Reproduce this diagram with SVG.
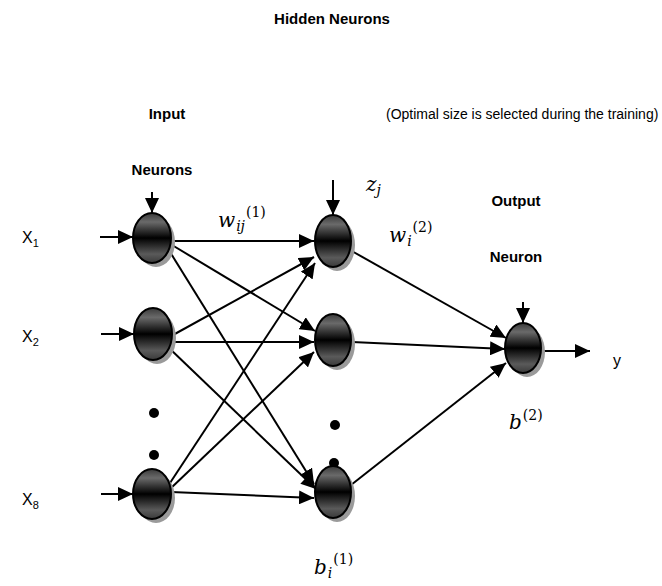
<svg xmlns="http://www.w3.org/2000/svg" width="662" height="586" viewBox="0 0 662 586">
<defs>
<linearGradient id="g" x1="0" y1="0" x2="0" y2="1">
<stop offset="0" stop-color="#3a3a3a"/>
<stop offset="0.18" stop-color="#6a6a6a"/>
<stop offset="0.5" stop-color="#000"/>
<stop offset="0.82" stop-color="#5a5a5a"/>
<stop offset="1" stop-color="#3a3a3a"/>
</linearGradient>
<marker id="a" markerUnits="userSpaceOnUse" markerWidth="16" markerHeight="14" refX="15" refY="7" orient="auto">
<path d="M0,0 L15,7 L0,14 z" fill="#000"/>
</marker>
</defs>
<style>
.sh{fill:#9a9a9a}
.n{fill:url(#g);stroke:#000;stroke-width:2}
.c{stroke:#000;stroke-width:2;fill:none;marker-end:url(#a)}
.b{font-family:"Liberation Sans",Arial,sans-serif;font-weight:bold;font-size:15px;fill:#000}
.t{font-family:"Liberation Sans",Arial,sans-serif;font-size:14px;fill:#000}
.x{font-family:"Liberation Sans",Arial,sans-serif;font-size:16px;fill:#000}
.m{font-family:"DejaVu Serif","Liberation Serif",serif;font-style:italic;font-size:20px;fill:#000}
.s{font-family:"DejaVu Serif","Liberation Serif",serif;font-style:normal;font-size:14px}
</style>
<g id="labels">
<text class="b" x="332" y="24" text-anchor="middle">Hidden Neurons</text>
<text class="b" x="167" y="119" text-anchor="middle">Input</text>
<text class="t" x="386" y="119">(Optimal size is selected during the training)</text>
<text class="b" x="162" y="175" text-anchor="middle">Neurons</text>
<text class="b" x="516" y="206" text-anchor="middle">Output</text>
<text class="b" x="516" y="262" text-anchor="middle">Neuron</text>
<text class="x" x="22" y="243">X<tspan font-size="11" dy="4">1</tspan></text>
<text class="x" x="22" y="342">X<tspan font-size="11" dy="4">2</tspan></text>
<text class="x" x="22" y="505">X<tspan font-size="11" dy="4">8</tspan></text>
<text class="x" x="613" y="366">y</text>
<text class="m" x="366" y="191">z<tspan font-size="14" dy="4">j</tspan></text>
<text class="m" x="218" y="227">w<tspan font-size="14" dy="4" dx="1">ij</tspan><tspan class="s" dy="-14" dx="1">(1)</tspan></text>
<text class="m" x="389" y="242">w<tspan font-size="14" dy="4" dx="1">i</tspan><tspan class="s" dy="-14" dx="1">(2)</tspan></text>
<text class="m" x="509" y="429">b<tspan class="s" dy="-9" dx="1">(2)</tspan></text>
<text class="m" x="314" y="574">b<tspan font-size="14" dy="4" dx="1">i</tspan><tspan class="s" dy="-14" dx="1">(1)</tspan></text>
</g>
<g id="connectors">
<line class="c" x1="100" y1="237" x2="133" y2="237"/>
<line class="c" x1="101" y1="334" x2="134" y2="334"/>
<line class="c" x1="101" y1="494" x2="133" y2="494"/>
<line class="c" x1="152" y1="192" x2="152" y2="213"/>
<line class="c" x1="333" y1="180" x2="333" y2="215"/>
<line class="c" x1="523" y1="302" x2="523" y2="323"/>
<line class="c" x1="172" y1="241" x2="314" y2="241"/>
<line class="c" x1="172" y1="245" x2="315" y2="331"/>
<line class="c" x1="170" y1="252" x2="314" y2="484"/>
<line class="c" x1="173" y1="335" x2="314" y2="257"/>
<line class="c" x1="173" y1="342" x2="314" y2="342"/>
<line class="c" x1="168" y1="347" x2="316" y2="489"/>
<line class="c" x1="168" y1="486" x2="315" y2="263"/>
<line class="c" x1="170" y1="489" x2="314" y2="352"/>
<line class="c" x1="171" y1="492" x2="314" y2="498"/>
<line class="c" x1="350" y1="250" x2="506" y2="338"/>
<line class="c" x1="352" y1="342" x2="505" y2="349"/>
<line class="c" x1="351" y1="485" x2="506" y2="363"/>
<line class="c" x1="542" y1="351" x2="590" y2="351"/>
</g>
<g id="dots">
<circle cx="154" cy="413" r="5"/>
<circle cx="154" cy="455" r="5"/>
<circle cx="335" cy="425" r="5"/>
<circle cx="334" cy="463" r="5"/>
</g>
<g id="in1"><ellipse class="sh" cx="156" cy="242" rx="19" ry="25"/><ellipse class="n" cx="152" cy="238" rx="19" ry="25"/></g>
<g id="in2"><ellipse class="sh" cx="157" cy="338" rx="19" ry="26"/><ellipse class="n" cx="153" cy="334" rx="19" ry="26"/></g>
<g id="in8"><ellipse class="sh" cx="156" cy="498" rx="19" ry="25"/><ellipse class="n" cx="152" cy="494" rx="19" ry="25"/></g>
<g id="h1"><ellipse class="sh" cx="337" cy="245" rx="18" ry="26"/><ellipse class="n" cx="333" cy="241" rx="18" ry="26"/></g>
<g id="h2"><ellipse class="sh" cx="337" cy="344" rx="18" ry="26"/><ellipse class="n" cx="333" cy="340" rx="18" ry="26"/></g>
<g id="h3"><ellipse class="sh" cx="337" cy="496" rx="18" ry="26"/><ellipse class="n" cx="333" cy="492" rx="18" ry="26"/></g>
<g id="out"><ellipse class="sh" cx="527" cy="352" rx="18" ry="25"/><ellipse class="n" cx="523" cy="348" rx="18" ry="25"/></g>
</svg>
